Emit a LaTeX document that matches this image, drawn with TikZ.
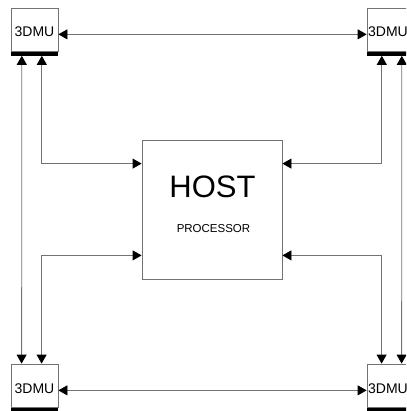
\documentclass[tikz,border=0pt]{standalone}
\usepackage{fontspec}
\setmainfont{Liberation Sans}
\usepackage{tikz}
\usetikzlibrary{arrows.meta, positioning, calc}
\definecolor{wire}{gray}{0.45}
\tikzset{
  unitbox/.style={draw=wire, line width=0.8pt, fill=white, minimum height=43pt, inner sep=1pt,
                  text height=15pt, text depth=0pt, font=\fontsize{14}{14}\selectfont},
  unitbar/.style={fill=black, minimum height=4pt, inner sep=0pt},
  hostbox/.style={draw=wire, line width=0.8pt, fill=white, minimum width=140pt, minimum height=139pt},
  link/.style={{Triangle[length=9pt, width=10pt, color=black, fill=black]}-{Triangle[length=9pt, width=10pt, color=black, fill=black]}, draw=wire, line width=0.8pt}
}
\newcommand{\dmu}[4]{%
  \node[unitbox, minimum width=#3] (#4) at (#1,#2) {3DMU};
  \node[unitbar, minimum width=#3, anchor=north] (#4bar) at (#4.south) {};
}

\begin{document}
\begin{tikzpicture}[x=1pt, y=-1pt]
        \useasboundingbox (0,0) rectangle (406,411);
        \clip (0,0) rectangle (406,411);

        % 3DMU units
        \dmu{34.5}{29.5}{47pt}{tl}
        \dmu{388}{29.5}{42pt}{tr}
        \dmu{34.5}{385.5}{47pt}{bl}
        \dmu{388}{385.5}{42pt}{br}

        % Host processor
        \node[hostbox] (host) at (212,209.5) {};
        \node[anchor=base, font=\fontsize{31}{31}\selectfont] (hostlbl) at (212.5,197) {HOST};
        \node[anchor=base, font=\fontsize{11.5}{11.5}\selectfont] (proclbl) at (213.5,232) {PROCESSOR};

        % Unit to unit
        \draw[link] (tl.mid east) -- (tr.mid west);
        \draw[link] (bl.mid east) -- (br.mid west);
        \draw[link] ($(tlbar.south west)+(11,0)$) -- ($(bl.north west)+(11,0)$);
        \draw[link] ($(trbar.south west)+(35,0)$) -- ($(br.north west)+(35,0)$);

        % Unit to host
        \draw[link] ($(tlbar.south west)+(31,0)$) |- ($(host.north west)+(0,24)$);
        \draw[link] ($(bl.north west)+(31,0)$) |- ($(host.south west)+(0,-24)$);
        \draw[link] ($(trbar.south west)+(15,0)$) |- ($(host.north east)+(0,24)$);
        \draw[link] ($(br.north west)+(15,0)$) |- ($(host.south east)+(0,-24)$);
    \end{tikzpicture}
\end{document}
